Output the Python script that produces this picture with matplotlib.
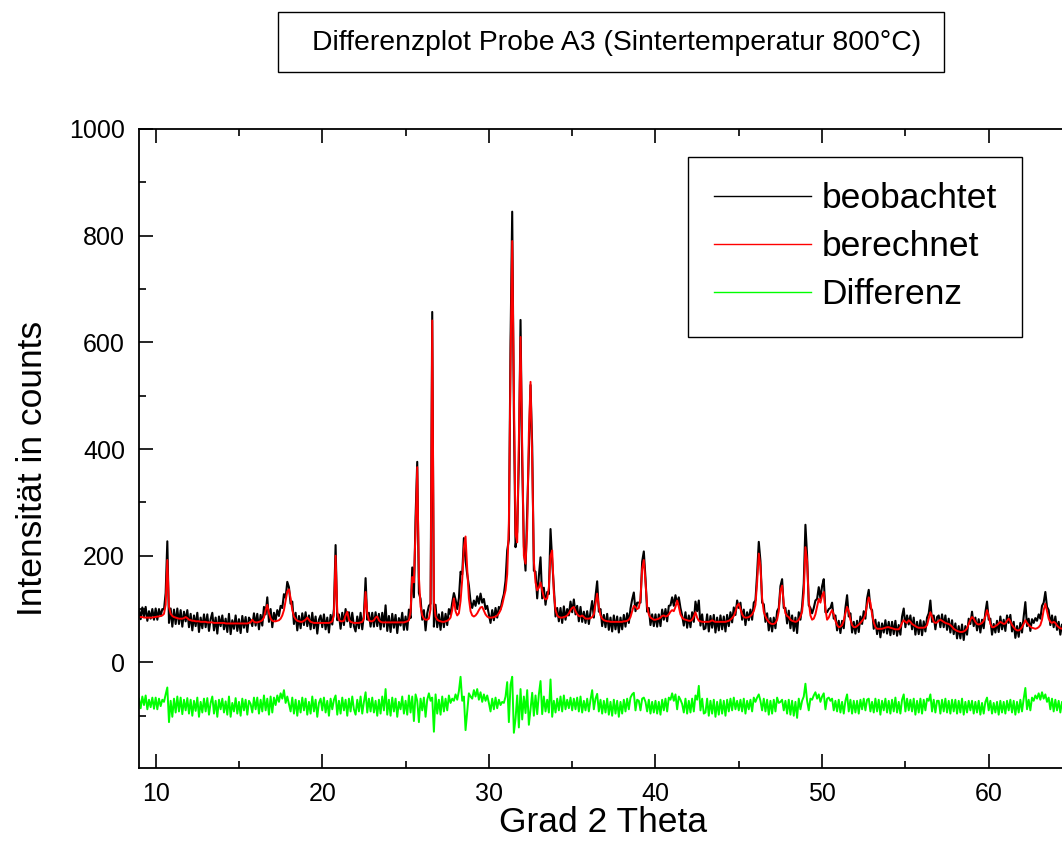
#!/usr/bin/env python3
"""
Rietveld difference plot, sample A3 (sintered at 800 C).
"""
import numpy as np
import matplotlib
matplotlib.use('Agg')
import matplotlib.pyplot as plt
from matplotlib.patches import Rectangle
from matplotlib.ticker import FixedLocator, MultipleLocator

plt.rcParams['font.family'] = ['Liberation Sans', 'DejaVu Sans']

# Scan: 2 theta from 9.0 to 64.5 deg, step 0.1 deg
theta_start = 9.0
theta_step = 0.1

# Calculated profile, one row per degree
berechnet = [
    85, 85, 85, 84, 84, 84, 84, 84, 84, 85,
    85, 86, 86, 87, 88, 91, 108, 192, 104, 91,
    87, 85, 84, 83, 82, 82, 82, 83, 85, 83,
    80, 79, 78, 78, 77, 77, 77, 76, 76, 76,
    76, 75, 75, 75, 75, 74, 74, 74, 74, 74,
    74, 74, 73, 73, 73, 73, 73, 73, 73, 73,
    73, 73, 73, 73, 73, 73, 74, 75, 80, 76,
    75, 75, 76, 77, 79, 84, 98, 108, 92, 82,
    78, 77, 77, 78, 79, 82, 88, 98, 115, 133,
    137, 120, 98, 86, 81, 78, 77, 76, 76, 78,
    80, 84, 80, 76, 75, 74, 74, 74, 74, 74,
    74, 74, 74, 74, 74, 75, 77, 88, 200, 95,
    80, 77, 77, 78, 88, 95, 80, 76, 75, 74,
    74, 74, 74, 75, 76, 82, 132, 92, 79, 77,
    77, 79, 84, 86, 79, 76, 75, 75, 75, 75,
    75, 75, 75, 75, 75, 75, 75, 75, 75, 75,
    76, 77, 79, 95, 160, 150, 250, 366, 160, 105,
    88, 82, 80, 80, 82, 100, 641, 115, 86, 80,
    78, 77, 76, 76, 77, 78, 80, 84, 98, 120,
    96, 88, 92, 115, 155, 215, 236, 175, 120, 96,
    88, 86, 88, 92, 98, 103, 104, 97, 90, 86,
    84, 84, 84, 85, 86, 88, 92, 98, 108, 122,
    135, 165, 260, 560, 790, 520, 240, 225, 420, 610,
    400, 200, 185, 250, 430, 526, 380, 190, 150, 135,
    140, 150, 135, 122, 118, 120, 140, 200, 210, 130,
    98, 88, 85, 84, 84, 85, 86, 88, 92, 98,
    102, 104, 96, 90, 87, 86, 88, 85, 82, 82,
    82, 83, 85, 90, 110, 129, 105, 88, 82, 79,
    78, 77, 77, 76, 76, 76, 76, 76, 76, 76,
    76, 77, 77, 78, 80, 85, 96, 106, 104, 100,
    102, 120, 175, 192, 150, 105, 90, 84, 82, 80,
    80, 81, 82, 84, 87, 88, 86, 87, 90, 95,
    98, 96, 104, 116, 104, 90, 84, 81, 80, 79,
    78, 78, 80, 86, 94, 84, 78, 77, 76, 76,
    76, 76, 76, 77, 79, 77, 76, 76, 76, 76,
    76, 76, 76, 77, 78, 80, 83, 87, 95, 106,
    110, 100, 90, 85, 84, 84, 85, 87, 90, 96,
    108, 150, 204, 180, 120, 95, 86, 80, 76, 73,
    72, 72, 74, 80, 96, 135, 144, 110, 92, 87,
    85, 80, 78, 77, 76, 77, 80, 86, 95, 130,
    216, 190, 115, 88, 80, 82, 90, 105, 119, 112,
    125, 132, 100, 80, 84, 92, 98, 90, 78, 70,
    66, 67, 70, 78, 92, 104, 96, 80, 70, 66,
    66, 68, 71, 74, 78, 82, 90, 108, 122, 112,
    90, 75, 66, 63, 63, 63, 63, 64, 65, 66,
    66, 65, 64, 63, 62, 62, 62, 66, 74, 79,
    76, 74, 79, 76, 72, 70, 68, 66, 65, 65,
    65, 65, 66, 70, 82, 94, 86, 76, 74, 75,
    78, 80, 78, 76, 74, 73, 72, 70, 67, 63,
    61, 59, 58, 57, 57, 58, 60, 64, 72, 80,
    85, 82, 76, 72, 71, 72, 74, 78, 86, 98,
    88, 72, 66, 66, 68, 70, 73, 76, 74, 72,
    73, 78, 82, 77, 70, 66, 62, 60, 60, 62,
    66, 72, 79, 74, 70, 67, 65, 64, 63, 64,
    66, 70, 80, 98, 110, 96, 82, 76, 74, 76,
    74, 69, 66, 64, 63, 63,
]

residuum = [
    14, -4, 18, 2, 20, -6, 12, -2, 16, -5,
    16, -6, 14, 0, 12, 8, 22, 35, -30, 10,
    -20, 14, -12, 18, -10, 16, -15, 12, -8, 15,
    -14, 12, -18, 10, -9, 16, -20, 8, -12, 14,
    -10, 15, -16, 6, 18, -14, 10, -20, 12, -6,
    14, -12, 9, -16, 18, -20, 6, -10, 15, -14,
    8, -18, 14, -8, 12, -16, 10, 4, -12, 16,
    -6, 16, -14, 12, -10, 20, -8, 14, -16, 18,
    -12, 16, 2, 20, 8, 24, 14, 30, 6, 18,
    4, -10, 16, -14, 12, -18, 10, -12, 16, -8,
    14, -16, 8, -14, 18, -10, 12, -20, 6, 14,
    -8, 16, -12, 10, -18, 14, -6, 12, 20, -16,
    10, -14, 16, -8, 12, -18, 14, -10, 18, -6,
    -16, 12, -10, 18, -14, 8, 26, -12, 14, -10,
    16, -12, 10, -18, 12, -14, 18, -8, 32, -16,
    12, -18, 16, -10, 14, -20, 8, -6, 18, -14,
    10, -16, 20, -12, 18, -28, 22, 10, -30, 14,
    -8, 16, -20, 12, 24, 10, 16, -48, 22, -14,
    12, -16, 18, -10, 14, -8, 20, 6, 14, 10,
    22, 12, 28, 55, 10, 18, -45, -10, 24, 18,
    14, 30, 18, 32, 12, 26, 8, 22, 10, 20,
    6, -10, 14, -6, 16, -4, 12, 2, 8, 6,
    18, 45, -30, 40, 55, -50, -24, 20, -40, 32,
    -25, 18, -13, 30, -35, -6, 25, -18, 20, -15,
    22, 47, -15, 18, -10, 12, -12, 50, -20, 10,
    -12, 14, -8, 18, -10, 20, -6, 12, -4, 16,
    -8, 14, -6, 16, -10, 18, -12, 10, -8, 14,
    -10, 12, 30, -6, 14, 23, -10, 12, -14, 10,
    -12, 14, -16, 8, -18, 12, -14, 10, -20, 8,
    -14, 12, -10, 14, -6, 16, 22, 25, -8, 12,
    10, -8, 14, 16, 8, -10, 12, -14, 8, -12,
    10, -14, 8, -16, 12, -8, 14, -10, 16, 12,
    24, 10, 22, -6, 18, 12, 4, -12, 14, -14,
    10, -12, 14, -10, 20, 12, 38, -8, 14, -14,
    -12, 14, -18, 10, -14, 12, -20, 8, -16, 12,
    -14, 10, -18, 12, -10, 14, -8, 16, -6, 10,
    -8, 12, -10, 14, -14, 10, -6, 12, -10, 16,
    8, 16, 22, 10, -8, 14, -10, 12, -16, 10,
    -14, 12, -10, 16, 6, 8, 12, -8, 10, -14,
    12, -16, 10, -18, 8, -22, 14, -6, 10, 18,
    42, 10, -8, 14, 12, 20, 26, 14, 22, 8,
    18, 24, -6, 14, 16, 10, 14, -8, 10, -10,
    12, -12, 8, -14, 10, 22, -10, 12, -14, 10,
    -12, 10, -14, 12, -6, 14, -8, 12, 14, -10,
    8, -12, 14, -10, 12, -16, 10, -8, 14, -12,
    10, -14, 12, -10, 16, -12, 8, -14, 12, 22,
    -10, 14, -8, 12, -10, 14, -16, 10, -12, 14,
    -14, 12, -8, 14, 10, 22, -10, 12, -12, 10,
    10, -14, 12, -10, 14, -12, 10, -14, 12, -10,
    12, -14, 10, -12, 14, -16, 8, -12, 10, -8,
    10, -14, 8, -12, 10, -16, 6, -14, 8, 16,
    -8, 10, -14, 6, -12, 8, -16, 10, -12, 8,
    -14, 10, -8, 12, -12, 10, -16, 8, -12, 12,
    -10, 14, 34, -6, 12, -8, 16, 10, 20, 14,
    24, 12, 26, 14, 22, 8, 16, -6, 14, -10,
    12, -8, 10, -12, 8, -10,
]

# Difference curve is shifted down by this offset
diff_offset = -82

calc = np.array(berechnet, dtype=float)
resid = np.array(residuum, dtype=float)
obs = calc + resid
diff = resid + diff_offset
two_theta = theta_start + theta_step * np.arange(len(calc))

W, H = 1062, 860
fig = plt.figure(figsize=(W / 100, H / 100), dpi=100)

# Axes runs past the right edge of the figure, as in the original export
x0, x1, y0, y1 = 139, 1072, 129, 768
ax = fig.add_axes([x0 / W, 1 - y1 / H, (x1 - x0) / W, (y1 - y0) / H])

ax.plot(two_theta, obs, color='black', lw=1.5, label='beobachtet')
ax.plot(two_theta, calc, color='#ff0000', lw=1.4, label='berechnet')
ax.plot(two_theta, diff, color='#00ff00', lw=1.4, label='Differenz')

ax.set_xlim(9, 65)
ax.set_ylim(-198, 1000)
ax.xaxis.set_major_locator(MultipleLocator(10))
ax.xaxis.set_minor_locator(MultipleLocator(5))
ax.yaxis.set_major_locator(FixedLocator([0, 200, 400, 600, 800, 1000]))
ax.yaxis.set_minor_locator(MultipleLocator(100))

ax.tick_params(which='both', direction='in', top=True, right=False,
               width=1.2, labelsize=18, pad=10)
ax.tick_params(which='major', length=10)
ax.tick_params(which='minor', length=5)
ax.spines['right'].set_visible(False)
for s in ('left', 'bottom', 'top'):
    ax.spines[s].set_linewidth(1.3)

fig.text(603 / W, 1 - 823 / H, 'Grad 2 Theta', fontsize=25.5,
         ha='center', va='center')
fig.text(33 / W, 1 - 468 / H, 'Intensität in counts', fontsize=25.5,
         rotation=90, ha='center', va='center')

# Title in a box
fig.patches.append(Rectangle((278 / W, 1 - 72 / H), 666 / W, 60 / H,
                             transform=fig.transFigure, fill=False,
                             edgecolor='black', lw=1.0))
fig.text(617 / W, 1 - 43 / H, 'Differenzplot Probe A3 (Sintertemperatur 800°C)',
         fontsize=20.4, ha='center', va='center')

leg = ax.legend(loc='upper left', bbox_to_anchor=(688 / W, 1 - 157 / H),
                bbox_transform=fig.transFigure, fontsize=25.5,
                handlelength=2.75, handletextpad=0.3, labelspacing=0.42,
                borderpad=0.72, borderaxespad=0, fancybox=False,
                framealpha=1, edgecolor='black')
leg.get_frame().set_linewidth(1.0)
for line in leg.get_lines():
    line.set_linewidth(1.0)

fig.savefig('out.png', dpi=100)
